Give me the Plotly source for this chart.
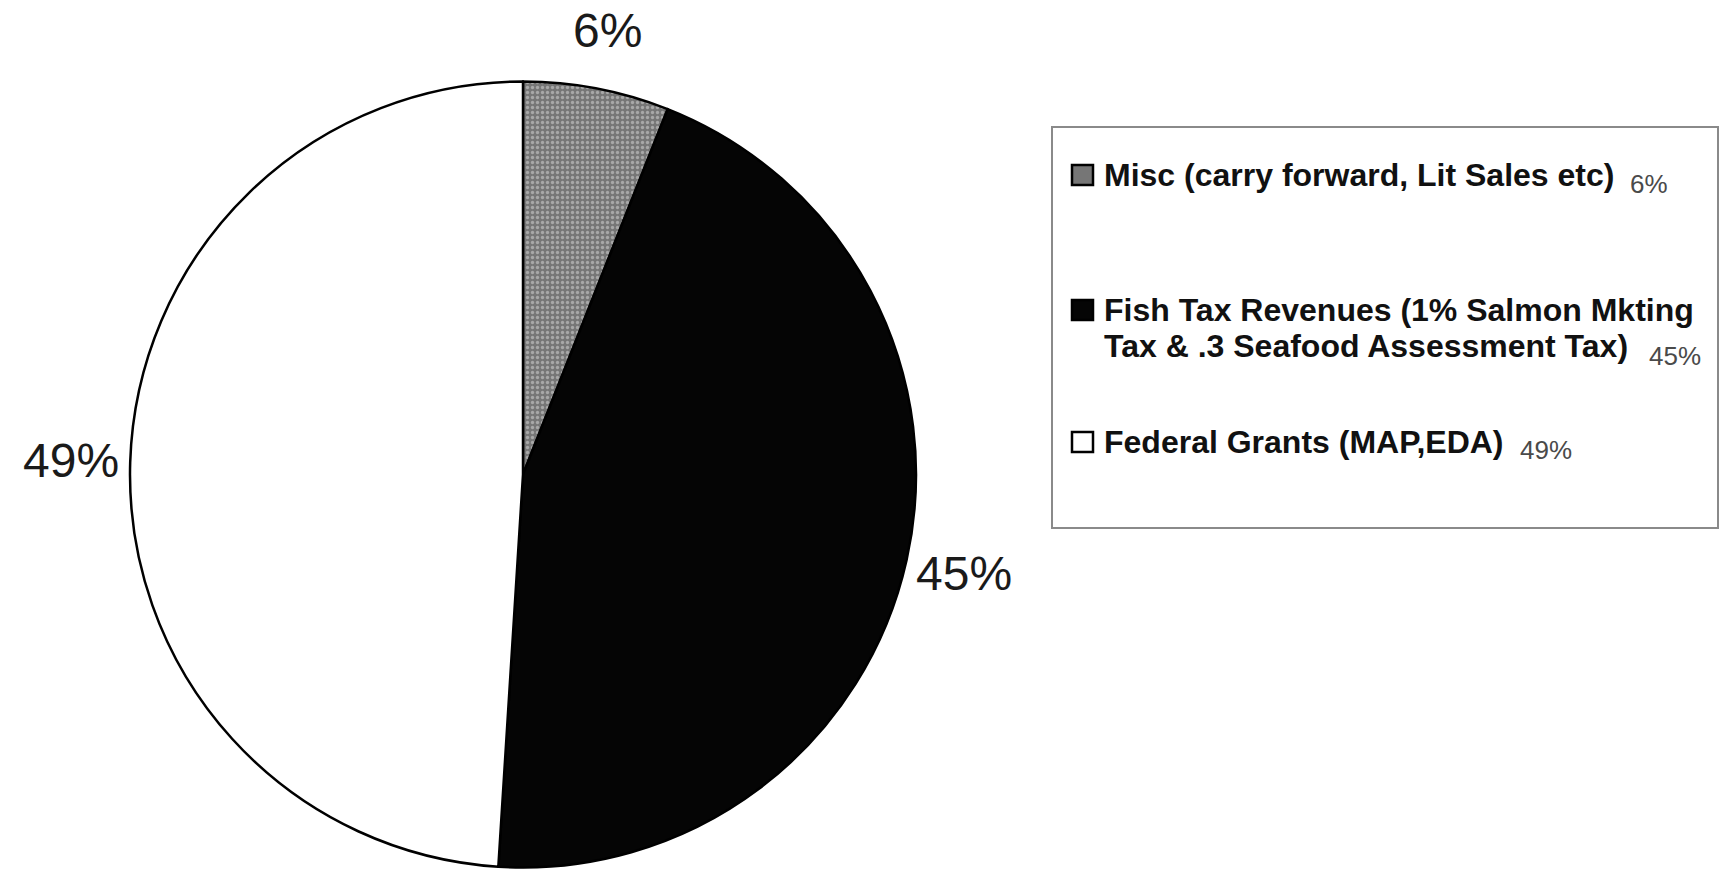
import math
import plotly.graph_objects as go

# Revenue sources and their shares (%)
legend_lines = [
    ["Misc (carry forward, Lit Sales etc)"],
    ["Fish Tax Revenues (1% Salmon Mkting", "Tax & .3 Seafood Assessment Tax)"],
    ["Federal Grants (MAP,EDA)"],
]
categories = [" ".join(lines) for lines in legend_lines]
shares = [6, 45, 49]
slice_colors = ["#767676", "#050505", "#ffffff"]

W, H = 1725, 875
FONT = "Liberation Sans, Arial, Helvetica, sans-serif"


def px_x(x):
    return x / W


def px_y(y):
    return 1 - y / H


# pie geometry in pixels
cx, cy, r = 523, 474.5, 393

fig = go.Figure()
fig.add_trace(go.Pie(
    labels=categories,
    values=shares,
    sort=False,
    direction="clockwise",
    rotation=0,
    textinfo="none",
    hoverinfo="label+percent",
    marker=dict(
        colors=slice_colors,
        line=dict(color="#000000", width=2.5),
        pattern=dict(
            shape=[".", "", ""],
            fgcolor=["#a8a8a8", "#000000", "#ffffff"],
            bgcolor=slice_colors,
            size=5,
            solidity=0.35,
        ),
    ),
    domain=dict(x=[px_x(cx - r), px_x(cx + r)],
                y=[px_y(cy + r), px_y(cy - r)]),
    showlegend=False,
))

annotations = []
shapes = []

# percentage labels outside the slices, at each slice's mid-angle
label_r = 452
total = sum(shares)
cum = 0
for v in shares:
    mid = math.radians((cum + v / 2) / total * 360)
    cum += v
    lx = cx + label_r * math.sin(mid)
    ly = cy - label_r * math.cos(mid)
    annotations.append(dict(
        x=px_x(lx), y=px_y(ly), xref="paper", yref="paper",
        text=f"{v}%", showarrow=False, xanchor="center", yanchor="middle",
        font=dict(family=FONT, size=48, color="#1a1a1a"),
    ))

# legend frame
shapes.append(dict(
    type="rect", xref="paper", yref="paper",
    x0=px_x(1052), x1=px_x(1718), y0=px_y(528), y1=px_y(127),
    line=dict(color="#8a8a8a", width=2), fillcolor="rgba(0,0,0,0)",
))

# legend entries: first-line centre y, and where the small share figure sits
item_y = [175, 310, 442]
pct_pos = [(1628, 184), (1647, 356), (1518, 450)]
line_gap = 36
sw_x0, sw_x1, txt_x = 1072, 1093, 1102
for lines, v, col, y0, (px_, py_) in zip(legend_lines, shares, slice_colors, item_y, pct_pos):
    shapes.append(dict(
        type="rect", xref="paper", yref="paper",
        x0=px_x(sw_x0), x1=px_x(sw_x1), y0=px_y(y0 + 10), y1=px_y(y0 - 10),
        line=dict(color="#000000", width=2.5), fillcolor=col,
    ))
    for i, line in enumerate(lines):
        annotations.append(dict(
            x=px_x(txt_x), y=px_y(y0 + i * line_gap), xref="paper", yref="paper",
            text=f"<b>{line}</b>", showarrow=False, xanchor="left", yanchor="middle",
            font=dict(family=FONT, size=32, color="#111111"),
        ))
    annotations.append(dict(
        x=px_x(px_), y=px_y(py_), xref="paper", yref="paper",
        text=f"{v}%", showarrow=False, xanchor="left", yanchor="middle",
        font=dict(family=FONT, size=26, color="#4a4a4a"),
    ))

fig.update_layout(
    width=W, height=H,
    margin=dict(l=0, r=0, t=0, b=0),
    paper_bgcolor="#ffffff",
    plot_bgcolor="#ffffff",
    showlegend=False,
    annotations=annotations,
    shapes=shapes,
)

fig.write_html("out.html")
